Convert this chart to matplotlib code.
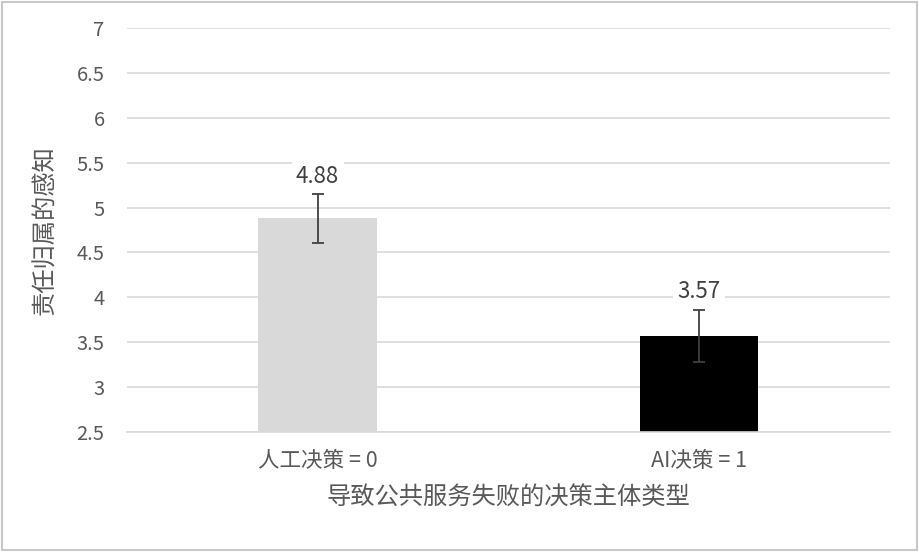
import matplotlib
matplotlib.use('Agg')
import matplotlib.pyplot as plt
from matplotlib.patches import Rectangle

plt.rcParams['font.family'] = ['Noto Sans CJK SC', 'DejaVu Sans']

# data
categories = ['人工决策 = 0', 'AI决策 = 1']
means = [4.88, 3.57]
errors = [0.27, 0.29]
bar_colors = ['#d9d9d9', '#000000']
yticks = [2.5, 3, 3.5, 4, 4.5, 5, 5.5, 6, 6.5, 7]

text_color = '#595959'
grid_color = '#d9d9d9'

fig = plt.figure(figsize=(9.19, 5.52), dpi=100)
ax = fig.add_axes([0.138, 0.2174, 0.830, 0.7319])

x = list(range(len(categories)))
ax.bar(x, means, width=0.31, color=bar_colors, zorder=2)
ax.errorbar(x, means, yerr=errors, fmt='none', ecolor='#404040',
            elinewidth=1.3, capsize=4, capthick=1.3, zorder=3)

for xi, m, e in zip(x, means, errors):
    ax.annotate('%.2f' % m, (xi, m + e), textcoords='offset points',
                xytext=(0, 13), ha='center', va='center', fontsize=16,
                color='#404040', zorder=4,
                bbox=dict(boxstyle='square,pad=0.2', fc='white', ec='none'))

ax.set_ylim(2.5, 7)
ax.set_xlim(-0.5, 1.5)
ax.set_yticks(yticks)
ax.set_yticklabels([('%g' % t) for t in yticks])
ax.set_xticks(x)
ax.set_xticklabels(categories)

ax.yaxis.grid(True, color=grid_color, linewidth=1.2, zorder=0)
ax.set_axisbelow(True)
for s in ['top', 'right', 'left']:
    ax.spines[s].set_visible(False)
ax.spines['bottom'].set_color(grid_color)
ax.spines['bottom'].set_linewidth(1.2)

ax.tick_params(axis='y', length=0, pad=16, labelsize=14.5, labelcolor=text_color)
ax.tick_params(axis='x', length=0, pad=13, labelsize=15.5, labelcolor=text_color)

ax.set_ylabel('责任归属的感知', fontsize=17.5, color=text_color, labelpad=13)
ax.set_xlabel('导致公共服务失败的决策主体类型', fontsize=17.5, color=text_color, labelpad=9)

fig.patches.append(Rectangle((0.002, 0.004), 0.996, 0.992, transform=fig.transFigure,
                             fill=False, edgecolor='#c8c8c8', linewidth=1.5))

fig.savefig('out.png', dpi=100)
